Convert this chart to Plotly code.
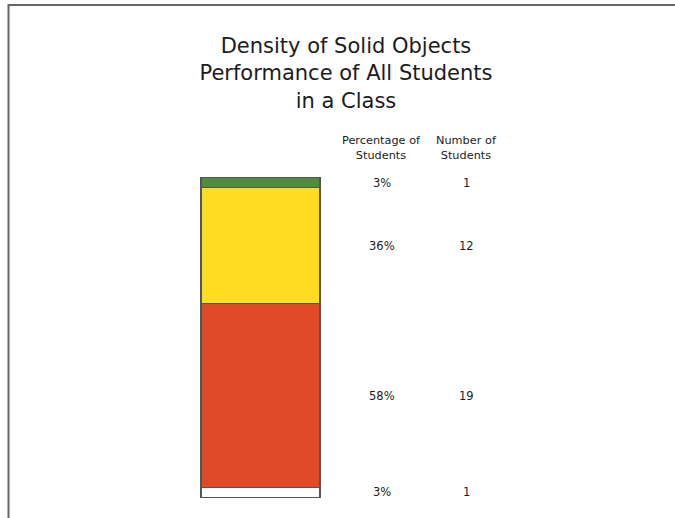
import plotly.graph_objects as go

# Performance bands, bottom to top of the stacked bar
bands = ["Below", "Approaching", "Meets", "Exceeds"]
students = [1, 19, 12, 1]
percent_labels = ["3%", "58%", "36%", "3%"]
band_colors = ["#FFFFFF", "#E04A26", "#FDDC22", "#4F8C3B"]

col_headers = ["Percentage of<br>Students", "Number of<br>Students"]

W, H = 675, 518
bar_x = 0.0
pct_x = 1.02
num_x = 1.735
total = sum(students)

# vertical layout: one student ~9.67 px, bar top at 178 px
unit = 319 / total
y_lo, y_hi = -1.0, total + 0.5
plot_h = (y_hi - y_lo) * unit
top_m = 178 - (y_hi - total) * unit
bot_m = H - top_m - plot_h
plot_bottom = H - bot_m


def paper_y(px):
    return (plot_bottom - px) / plot_h


FONT = "DejaVu Sans, Liberation Sans, Arial, sans-serif"
INK = "#1c1c1c"

fig = go.Figure()
for name, n, col in zip(bands, students, band_colors):
    fig.add_trace(go.Bar(
        x=[bar_x], y=[n], name=name, width=1.0,
        marker=dict(color=col, line=dict(color="#555555", width=1.2)),
        hoverinfo="skip", showlegend=False,
    ))

annotations = []
base = 0
for n, p in zip(students, percent_labels):
    mid = base + n / 2
    annotations.append(dict(x=pct_x, y=mid, xref="x", yref="y", text=p,
                            showarrow=False, font=dict(size=11.5, color=INK)))
    annotations.append(dict(x=num_x, y=mid, xref="x", yref="y", text=str(n),
                            showarrow=False, font=dict(size=11.5, color=INK)))
    base += n

for hx, htxt in zip([pct_x, num_x], col_headers):
    annotations.append(dict(x=hx, y=paper_y(164), xref="x", yref="paper", text=htxt,
                            showarrow=False, yanchor="bottom",
                            font=dict(size=11.3, color=INK)))

# thin frame along the top and left edges
fy = paper_y(5.5)
frame = dict(type="path", xref="paper", yref="paper",
             path=f"M {8.5/W} -0.2 L {8.5/W} {fy} L 1.05 {fy}",
             line=dict(color="#666666", width=2))

fig.update_layout(
    width=W, height=H,
    margin=dict(l=0, r=0, t=top_m, b=bot_m),
    barmode="stack",
    paper_bgcolor="white", plot_bgcolor="white",
    font=dict(family=FONT, color=INK),
    title=dict(text="Density of Solid Objects<br>Performance of All Students<br>in a Class",
               x=346 / W, xanchor="center", y=1 - 53 / H, yanchor="top",
               font=dict(size=21, color=INK)),
    xaxis=dict(range=[-260.5 / 119, (675 - 260.5) / 119], visible=False, fixedrange=True),
    yaxis=dict(range=[y_lo, y_hi], visible=False, fixedrange=True),
    annotations=annotations,
    shapes=[frame],
)

fig.write_html("out.html")
